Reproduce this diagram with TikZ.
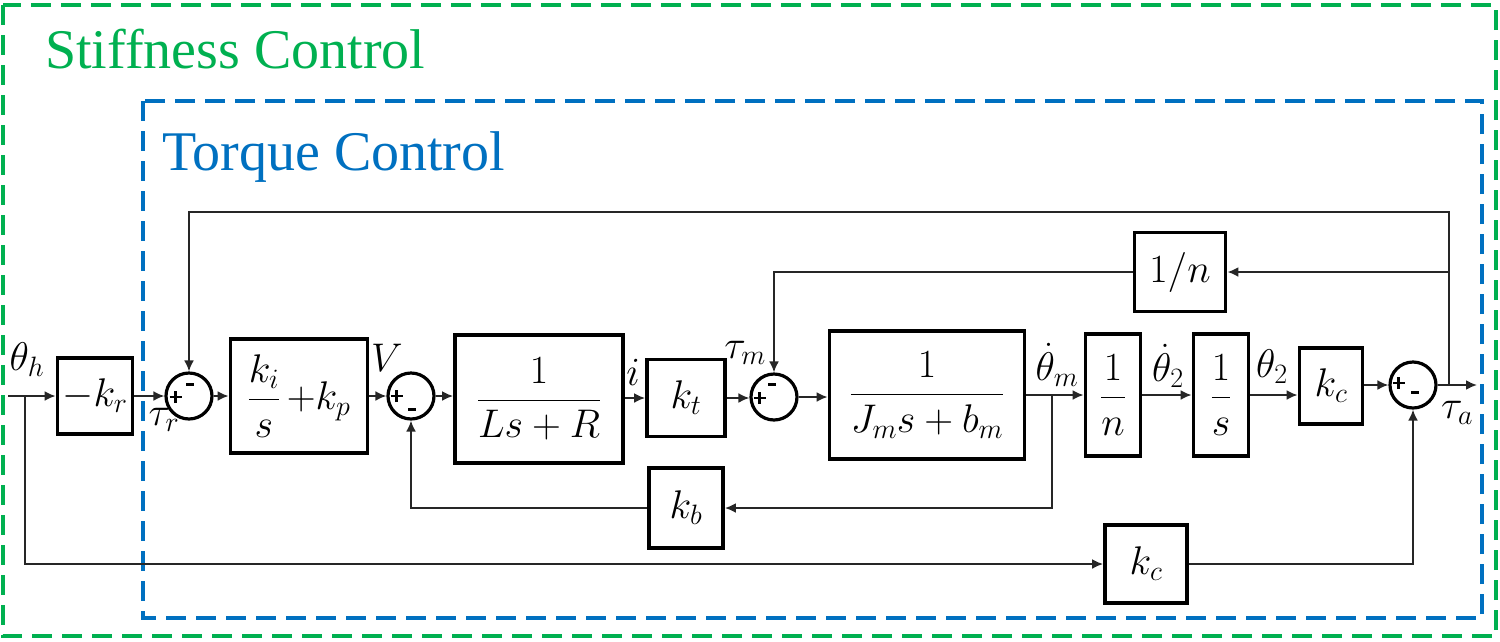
\RequirePackage{fix-cm}
\documentclass[tikz,border=0pt]{standalone}
\usepackage{amsmath}
\usepackage[no-math]{fontspec}
\setmainfont{Liberation Serif}
\usetikzlibrary{arrows.meta}
\definecolor{scgreen}{RGB}{0,176,80}
\definecolor{tcblue}{RGB}{0,112,192}
\newcommand{\mfs}{\fontsize{40}{44}\selectfont}
\newcommand{\msign}{\rule[0pt]{8pt}{3pt}}
\newcommand{\psign}{\rule[-5pt]{2.2pt}{12pt}\kern-7.1pt\rule[-0.1pt]{12pt}{2.2pt}}
\tikzset{
  blk/.style={draw, line width=3.8pt, inner sep=0pt, font=\mfs},
  sumn/.style={circle, draw, line width=3.2pt, minimum size=46pt, inner sep=0pt},
  conn/.style={line width=2pt, draw=black!85},
  arr/.style={conn, -{Latex[length=11pt,width=10pt]}},
  sgn/.style={inner sep=0pt},
  lab/.style={font=\mfs, inner sep=0pt},
  frame/.style={line width=4pt, dash pattern=on 20pt off 10pt},
  title/.style={anchor=base west, inner sep=0pt, font=\fontsize{56}{60}\selectfont}
}
\begin{document}
\begin{tikzpicture}[x=1pt,y=-1pt]
\useasboundingbox (0,0) rectangle (1500,641);
% frames
\draw[frame, draw=scgreen] (3,5) rectangle (1496,636);
\draw[frame, draw=tcblue] (143,101) rectangle (1482,618);
\node[title, text=scgreen] (st) at (45,68) {Stiffness Control};
\node[title, text=tcblue] (tc) at (162,170) {Torque Control};
% blocks
\node[blk, minimum width=75pt, minimum height=76pt] (kr) at (95,396) {$-k_r$};
\node[sumn] (s1) at (189,396) {};
\node[blk, minimum width=137pt, minimum height=114pt] (pi) at (299,396) {$\dfrac{k_i}{s}\,{+}k_p$};
\node[sumn] (s2) at (411,396) {};
\node[blk, minimum width=168pt, minimum height=128pt] (ls) at (539,399) {$\dfrac{1}{Ls+R}$};
\node[blk, minimum width=78pt, minimum height=77pt] (kt) at (686,398) {$k_t$};
\node[sumn] (s3) at (774,397) {};
\node[blk, minimum width=195pt, minimum height=128pt] (jm) at (927,395) {$\dfrac{1}{J_m s+b_m}$};
\node[blk, minimum width=55pt, minimum height=122pt] (n1) at (1113,395) {$\dfrac{1}{n}$};
\node[blk, minimum width=55pt, minimum height=122pt] (si) at (1221,395) {$\dfrac{1}{s}$};
\node[blk, minimum width=63pt, minimum height=76pt] (kc) at (1331,386) {$k_c$};
\node[sumn] (s4) at (1413,385) {};
\node[blk, minimum width=91pt, minimum height=79pt] (ninv) at (1180,272) {$1/n$};
\node[blk, minimum width=74pt, minimum height=80pt] (kb) at (686,508) {$k_b$};
\node[blk, minimum width=82pt, minimum height=78pt] (kc2) at (1146,564) {$k_c$};
% signs
\node[sgn] (p1) at ([shift={(-11,1)}]s1.center) {\psign};
\node[sgn] (m1) at ([shift={(1,-12)}]s1.center) {\msign};
\node[sgn] (p2) at ([shift={(-12,0)}]s2.center) {\psign};
\node[sgn] (m2) at ([shift={(1,13)}]s2.center) {\msign};
\node[sgn] (p3) at ([shift={(-12,1)}]s3.center) {\psign};
\node[sgn] (m3) at ([shift={(-2,-13)}]s3.center) {\msign};
\node[sgn] (p4) at ([shift={(-12,-2)}]s4.center) {\psign};
\node[sgn] (m4) at ([shift={(2,7)}]s4.center) {\msign};
% coordinates
\coordinate (in) at (8,396);
\coordinate (b0) at (25,396);
\coordinate (bm) at (1052,395);
\coordinate (b4) at (1449,385);
\coordinate (out) at (1477,385);
\coordinate (tl) at (189,212);
% main path
\draw[arr] (in) -- (kr);
\draw[arr] (kr) -- (s1);
\draw[arr] (s1) -- (pi);
\draw[arr] (pi) -- (s2);
\draw[arr] (s2.east) -- (s2.east -| ls.west);
\draw[arr] (ls.east |- kt) -- (kt);
\draw[arr] (kt.east) -- (kt.east -| s3.west);
\draw[arr] (s3.east) -- (s3.east -| jm.west);
\draw[arr] (jm) -- (n1);
\draw[arr] (n1) -- (si);
\draw[arr] (si.east) -- (si.east -| kc.west);
\draw[arr] (kc.east |- s4) -- (s4);
\draw[arr] (s4) -- (out);
% feedback paths
\draw[arr] (b4) |- (tl) -- (s1);
\draw[arr] (b4) |- (ninv);
\draw[arr] (ninv) -| (s3);
\draw[arr] (bm) |- (kb);
\draw[arr] (kb) -| (s2);
\draw[arr] (b0) |- (kc2);
\draw[arr] (kc2) -| (s4);
% labels
\node[lab] (lth) at (27,360) {$\theta_h$};
\node[lab] (ltr) at (164,420) {$\tau_r$};
\node[lab] (lv) at (387,358) {$V$};
\node[lab] (li) at (633,372) {$i$};
\node[lab] (ltm) at (745,353) {$\tau_m$};
\node[lab] (lthm) at (1057,365) {$\dot\theta_m$};
\node[lab] (lth2d) at (1168,366) {$\dot\theta_2$};
\node[lab] (lth2) at (1272,367) {$\theta_2$};
\node[lab] (lta) at (1457,413) {$\tau_a$};
\end{tikzpicture}
\end{document}
